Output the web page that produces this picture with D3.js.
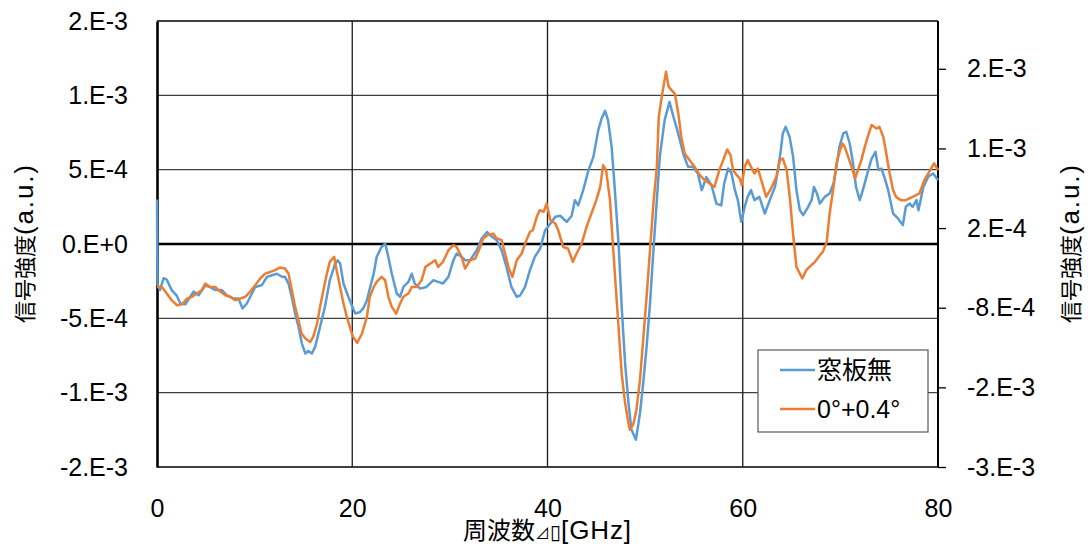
<!DOCTYPE html>
<html><head><meta charset="utf-8">
<script src="https://cdn.jsdelivr.net/npm/d3@7"></script>
<style>
body{margin:0;background:#fff;}
text{font-family:"Noto Sans CJK JP","Noto Sans",sans-serif;fill:#000;}
.num{font-family:"Liberation Sans","Open Sans",sans-serif;}
</style></head>
<body><svg id="c" width="1088" height="549"></svg>
<script>
// ---- data ----
const seriesNames = ["窓板無", "0°+0.4°"];
const seriesColors = ["#5B9BD5", "#ED7D31"];
const xTicks = [0, 20, 40, 60, 80];
const leftTicks = [1.5e-3, 1e-3, 5e-4, 0, -5e-4, -1e-3, -1.5e-3];
const leftTickLabels = ["2.E-3", "1.E-3", "5.E-4", "0.E+0", "-5.E-4", "-1.E-3", "-2.E-3"];
const rightTicks = [2.2e-3, 1.2e-3, 2e-4, -8e-4, -1.8e-3, -2.8e-3];
const rightTickLabels = ["2.E-3", "1.E-3", "2.E-4", "-8.E-4", "-2.E-3", "-3.E-3"];

const blueFreq = [0,0.05,0.3,0.68,1.0,1.5,2.0,2.4,2.9,3.4,3.75,4.26,4.94,5.45,5.97,6.65,7.16,7.84,8.35,8.76,9.2,9.72,10.06,10.74,11.26,11.77,12.28,12.8,13.1,13.47,13.8,14.15,14.5,14.84,15.2,15.5,15.86,16.2,16.7,17.2,17.7,18.25,18.5,18.76,19.1,19.6,20.3,20.8,21.15,21.5,21.8,22.2,22.5,23.0,23.37,23.7,24.05,24.56,24.9,25.24,25.75,26.1,26.4,26.95,27.6,28.3,28.8,29.3,29.85,30.36,30.7,31.2,31.56,32.07,32.75,33.26,33.8,34.1,34.8,35.3,35.8,36.3,36.85,37.2,37.7,38.2,38.7,39.25,39.76,40.3,40.8,41.3,41.97,42.48,42.8,43.15,43.66,44.2,44.7,45.2,45.55,45.9,46.2,46.57,46.9,47.3,47.6,47.95,48.3,48.6,49.06,49.47,49.8,50.15,50.5,50.85,51.2,51.5,52.0,52.5,52.9,53.2,53.56,53.9,54.4,54.9,55.4,55.8,56.27,56.8,57.3,57.8,58.1,58.5,58.85,59.2,59.5,59.85,60.2,60.5,60.85,61.2,61.7,62.26,62.77,63.3,63.6,63.9,64.1,64.4,64.8,65.16,65.5,65.85,66.2,66.7,67.05,67.3,67.6,67.9,68.4,68.9,69.3,69.6,69.9,70.3,70.6,70.96,71.3,71.6,71.98,72.3,72.67,73.2,73.6,73.9,74.2,74.5,74.9,75.4,75.9,76.4,76.7,77.1,77.4,77.8,78.0,78.5,79.0,79.5,80.0];
const blueVal = [3.0e-4,-2.7e-4,-3.1e-4,-2.3e-4,-2.4e-4,-3.1e-4,-3.45e-4,-4.0e-4,-4.05e-4,-3.55e-4,-3.2e-4,-3.45e-4,-2.8e-4,-2.9e-4,-3.1e-4,-3.1e-4,-3.45e-4,-3.67e-4,-3.67e-4,-4.34e-4,-4.0e-4,-3.33e-4,-2.89e-4,-2.77e-4,-2.21e-4,-2.1e-4,-2.0e-4,-2.2e-4,-2.2e-4,-2.66e-4,-3.55e-4,-4.68e-4,-5.58e-4,-6.7e-4,-7.37e-4,-7.2e-4,-7.37e-4,-6.92e-4,-5.58e-4,-4.23e-4,-2.44e-4,-1.31e-4,-1.1e-4,-1.31e-4,-2.66e-4,-3.55e-4,-4.68e-4,-4.57e-4,-4.3e-4,-3.78e-4,-3.0e-4,-1.99e-4,-0.87e-4,-0.2e-4,0.03e-4,-0.87e-4,-2.0e-4,-3.33e-4,-3.55e-4,-2.89e-4,-2.55e-4,-2.0e-4,-2.66e-4,-3.0e-4,-2.89e-4,-2.44e-4,-2.55e-4,-2.66e-4,-2.21e-4,-1.09e-4,-0.64e-4,-0.87e-4,-1.09e-4,-1.09e-4,-0.42e-4,0.37e-4,0.81e-4,0.6e-4,0.26e-4,-0.42e-4,-1.54e-4,-2.89e-4,-3.55e-4,-3.45e-4,-2.89e-4,-1.76e-4,-0.87e-4,-0.3e-4,0.93e-4,1.38e-4,1.83e-4,1.9e-4,1.49e-4,1.9e-4,2.95e-4,2.6e-4,3.62e-4,4.97e-4,5.86e-4,7.66e-4,8.45e-4,8.96e-4,8.33e-4,6.53e-4,3.62e-4,-0.2e-4,-4.23e-4,-8.04e-4,-10.7e-4,-12.5e-4,-13.16e-4,-11.4e-4,-9.39e-4,-6.92e-4,-4.0e-4,-0.42e-4,2.95e-4,5.86e-4,8.33e-4,9.56e-4,8.55e-4,7.88e-4,6.99e-4,6.09e-4,5.19e-4,5.19e-4,4.74e-4,3.62e-4,4.5e-4,3.96e-4,2.72e-4,2.6e-4,4.07e-4,5.08e-4,4.74e-4,3.62e-4,2.95e-4,1.49e-4,2.5e-4,3.17e-4,3.62e-4,2.95e-4,3.17e-4,2.05e-4,2.95e-4,3.84e-4,4.97e-4,6.31e-4,7.44e-4,7.88e-4,7.2e-4,5.86e-4,3.62e-4,2.27e-4,1.94e-4,2.5e-4,2.95e-4,3.84e-4,3.4e-4,2.72e-4,3.17e-4,3.4e-4,4.07e-4,5.19e-4,6.53e-4,7.44e-4,7.55e-4,6.76e-4,5.42e-4,3.84e-4,2.95e-4,3.62e-4,4.52e-4,5.75e-4,6.2e-4,4.97e-4,5.08e-4,4.52e-4,3.62e-4,2.05e-4,1.72e-4,1.27e-4,2.5e-4,2.72e-4,2.5e-4,2.95e-4,2.27e-4,3.84e-4,4.52e-4,4.74e-4,4.29e-4];

const orangeFreq = [0,0.5,1.0,1.5,2.05,2.56,3.07,3.58,4.1,4.6,4.94,5.45,5.97,6.48,7.0,7.5,8.0,8.5,9.04,9.55,10.06,10.57,11.08,11.6,12.1,12.6,13.1,13.47,13.8,14.15,14.5,14.8,15.2,15.7,16.0,16.4,16.7,17.05,17.4,17.7,18.15,18.4,18.76,19.1,19.45,19.96,20.1,20.5,21.0,21.5,21.8,22.2,22.5,23.0,23.37,23.7,24.05,24.5,24.9,25.24,25.75,26.1,26.6,27.1,27.5,28.0,28.5,28.8,29.3,29.85,30.36,30.7,31.2,31.56,32.07,32.6,33.1,33.4,33.9,34.45,34.8,35.3,35.65,36.0,36.4,36.85,37.36,37.7,38.2,38.5,38.9,39.2,39.6,39.9,40.3,40.8,41.1,41.6,42.1,42.6,42.98,43.5,44.0,44.5,45.0,45.4,45.7,46.0,46.4,46.6,46.9,47.25,47.6,47.95,48.3,48.45,48.8,49.1,49.47,49.8,50.15,50.5,50.85,51.2,51.4,51.7,52.14,52.4,52.7,53.05,53.4,53.7,54.05,54.56,55.07,55.6,56.1,56.6,57.1,57.6,58.0,58.4,58.75,59.0,59.4,59.7,59.9,60.2,60.5,60.85,61.2,61.55,61.9,62.4,62.9,63.45,63.8,64.1,64.5,64.85,65.15,65.5,65.85,66.1,66.5,67.0,67.4,67.9,68.2,68.6,68.9,69.3,69.6,69.97,70.2,70.45,70.8,71.15,71.5,71.8,72.15,72.5,72.8,73.2,73.7,74.0,74.4,74.7,75.05,75.4,75.7,76.2,76.7,77.4,78.1,78.6,79.1,79.6,80.0];
const orangeVal = [-2.89e-4,-2.89e-4,-3.33e-4,-3.78e-4,-4.12e-4,-4.05e-4,-3.67e-4,-3.55e-4,-3.33e-4,-3.1e-4,-2.66e-4,-2.89e-4,-2.89e-4,-3.2e-4,-3.45e-4,-3.55e-4,-3.78e-4,-3.67e-4,-3.55e-4,-3.2e-4,-2.77e-4,-2.32e-4,-1.99e-4,-1.88e-4,-1.76e-4,-1.58e-4,-1.65e-4,-1.99e-4,-3.1e-4,-4.23e-4,-5.13e-4,-6.02e-4,-6.36e-4,-6.59e-4,-6.25e-4,-5.35e-4,-4.23e-4,-3.1e-4,-1.99e-4,-1.2e-4,-0.87e-4,-1.76e-4,-2.89e-4,-4.0e-4,-4.9e-4,-6.02e-4,-6.25e-4,-6.65e-4,-6.02e-4,-4.9e-4,-3.55e-4,-2.89e-4,-2.55e-4,-2.21e-4,-2.44e-4,-3.55e-4,-4.23e-4,-4.68e-4,-4.0e-4,-3.55e-4,-3.33e-4,-2.89e-4,-2.89e-4,-2.44e-4,-1.54e-4,-1.31e-4,-1.09e-4,-1.54e-4,-1.2e-4,-0.42e-4,-0.08e-4,-0.2e-4,-0.87e-4,-1.65e-4,-1.09e-4,-0.98e-4,-0.2e-4,0.37e-4,0.6e-4,0.7e-4,0.37e-4,0.26e-4,-0.64e-4,-1.54e-4,-2.21e-4,-1.09e-4,-0.64e-4,0.03e-4,0.81e-4,0.93e-4,1.83e-4,2.27e-4,2.16e-4,2.72e-4,1.6e-4,1.38e-4,0.93e-4,-0.2e-4,-0.3e-4,-1.2e-4,-0.64e-4,0.03e-4,1.15e-4,2.05e-4,2.95e-4,3.84e-4,5.3e-4,4.97e-4,2.95e-4,0.93e-4,-1.99e-4,-5.35e-4,-8.72e-4,-10.7e-4,-12.1e-4,-12.5e-4,-12.1e-4,-11.2e-4,-9.17e-4,-6.47e-4,-3.55e-4,-0.42e-4,2.72e-4,5.19e-4,8.55e-4,9.9e-4,11.58e-4,10.6e-4,10.35e-4,10.1e-4,8.78e-4,7.2e-4,6.09e-4,5.64e-4,5.19e-4,4.63e-4,4.29e-4,4.07e-4,3.84e-4,4.97e-4,5.64e-4,6.36e-4,5.98e-4,4.97e-4,4.63e-4,4.4e-4,3.96e-4,5.19e-4,5.64e-4,5.19e-4,4.74e-4,5.08e-4,4.29e-4,3.17e-4,3.73e-4,4.52e-4,5.64e-4,5.75e-4,4.97e-4,2.95e-4,0.7e-4,-1.54e-4,-1.99e-4,-2.32e-4,-1.76e-4,-1.43e-4,-1.2e-4,-0.75e-4,-0.53e-4,0.14e-4,2.05e-4,3.84e-4,5.42e-4,6.31e-4,6.76e-4,6.53e-4,5.86e-4,5.19e-4,4.4e-4,4.97e-4,5.64e-4,6.53e-4,7.2e-4,8.0e-4,7.77e-4,7.88e-4,7.2e-4,6.09e-4,4.74e-4,3.62e-4,3.17e-4,2.95e-4,2.95e-4,3.17e-4,3.4e-4,4.29e-4,4.85e-4,5.42e-4,4.97e-4];

// ---- chart ----
const svg = d3.select("#c");
const L = 157, R = 938, T = 21, B = 467;
const x = d3.scaleLinear().domain([0, 80]).range([L, R]);
const y = d3.scaleLinear().domain([-1.5e-3, 1.5e-3]).range([B, T]);
const y2 = d3.scaleLinear().domain([-2.8e-3, 2.8e-3]).range([B, T]);
const font = 25;

// horizontal gridlines
svg.append("g").selectAll("line").data(leftTicks.filter(d => d !== 0)).join("line")
  .attr("x1", L).attr("x2", R).attr("y1", d => y(d)).attr("y2", d => y(d))
  .attr("stroke", d => (d === 1.5e-3 || d === -1.5e-3 ? "#000" : "#404040")).attr("stroke-width", d => (d === 1.5e-3 || d === -1.5e-3) ? 1.5 : 1.3);
// vertical gridlines
svg.append("g").selectAll("line").data(xTicks.filter(d => d > 0 && d < 80)).join("line")
  .attr("x1", d => x(d)).attr("x2", d => x(d)).attr("y1", T).attr("y2", B)
  .attr("stroke", "#1a1a1a").attr("stroke-width", 1.3);

// zero line (x axis)
svg.append("line").attr("x1", L).attr("x2", R).attr("y1", y(0)).attr("y2", y(0))
  .attr("stroke", "#000").attr("stroke-width", 2.6);

// left axis
const yAxis = d3.axisLeft(y).tickValues(leftTicks).tickSize(0).tickPadding(29)
  .tickFormat((d, i) => leftTickLabels[i]);
const gl = svg.append("g").attr("transform", `translate(${L},0)`).call(yAxis);
gl.select(".domain").attr("stroke", "#000").attr("stroke-width", 2.6);
gl.selectAll("text").attr("class", "num").style("font-size", font + "px").attr("fill", "#000");

// right axis
const yAxis2 = d3.axisRight(y2).tickValues(rightTicks).tickSize(8).tickPadding(21)
  .tickFormat((d, i) => rightTickLabels[i]);
const gr = svg.append("g").attr("transform", `translate(${R},0)`).call(yAxis2);
gr.select(".domain").attr("stroke", "#000").attr("stroke-width", 2).attr("d", `M0,${T}V${B}`);
gr.selectAll(".tick line").attr("stroke", "#000").attr("stroke-width", 1.3);
gr.selectAll("text").attr("class", "num").style("font-size", font + "px").attr("fill", "#000");

// x axis labels at bottom
const xAxis = d3.axisBottom(x).tickValues(xTicks).tickSize(0).tickPadding(32);
const gx = svg.append("g").attr("transform", `translate(0,${B})`).call(xAxis);
gx.select(".domain").remove();
gx.selectAll("text").attr("class", "num").style("font-size", font + "px").attr("fill", "#000");

// series (drawn over axes)
const lineGen = d3.line().x(d => x(d[0])).y(d => y(d[1]));
const series = [d3.zip(blueFreq, blueVal), d3.zip(orangeFreq, orangeVal)];
series.forEach((s, i) => {
  svg.append("path").datum(s).attr("d", lineGen).attr("fill", "none")
    .attr("stroke", seriesColors[i]).attr("stroke-width", 2.5).attr("stroke-linejoin", "round");
});

// axis titles
function yTitle(cx) {
  const t = svg.append("text").attr("transform", `translate(${cx},${(T + B) / 2}) rotate(-90)`)
    .attr("text-anchor", "middle");
  t.append("tspan").style("font-size", "22px").text("信号強度");
  t.append("tspan").attr("class", "num").style("font-size", "26px").attr("textLength", 70).text("(a.u.)");
}
yTitle(33);
yTitle(1079);
const xt = svg.append("text").attr("x", 547).attr("y", 539).attr("text-anchor", "middle").style("font-size", "24px");
xt.append("tspan").text("周波数");
xt.append("tspan").style("font-size", "15px").text("⊿");
xt.append("tspan").style("font-family", "DejaVu Sans").style("font-size", "20px").text("▯");
xt.append("tspan").attr("class", "num").style("font-size", "26px").attr("textLength", 70).text("[GHz]");

// legend
const lg = svg.append("g").attr("transform", "translate(758,350)");
lg.append("rect").attr("width", 170).attr("height", 82).attr("fill", "#fff").attr("stroke", "#595959").attr("stroke-width", 1.2);
seriesNames.forEach((n, i) => {
  const yy = 20 + i * 39;
  lg.append("line").attr("x1", 22).attr("x2", 57).attr("y1", yy).attr("y2", yy)
    .attr("stroke", seriesColors[i]).attr("stroke-width", 2.5);
  lg.append("text").attr("x", 59).attr("y", yy + 9).attr("class", i === 1 ? "num" : null)
    .style("font-size", "25px").text(n);
});
</script></body></html>
